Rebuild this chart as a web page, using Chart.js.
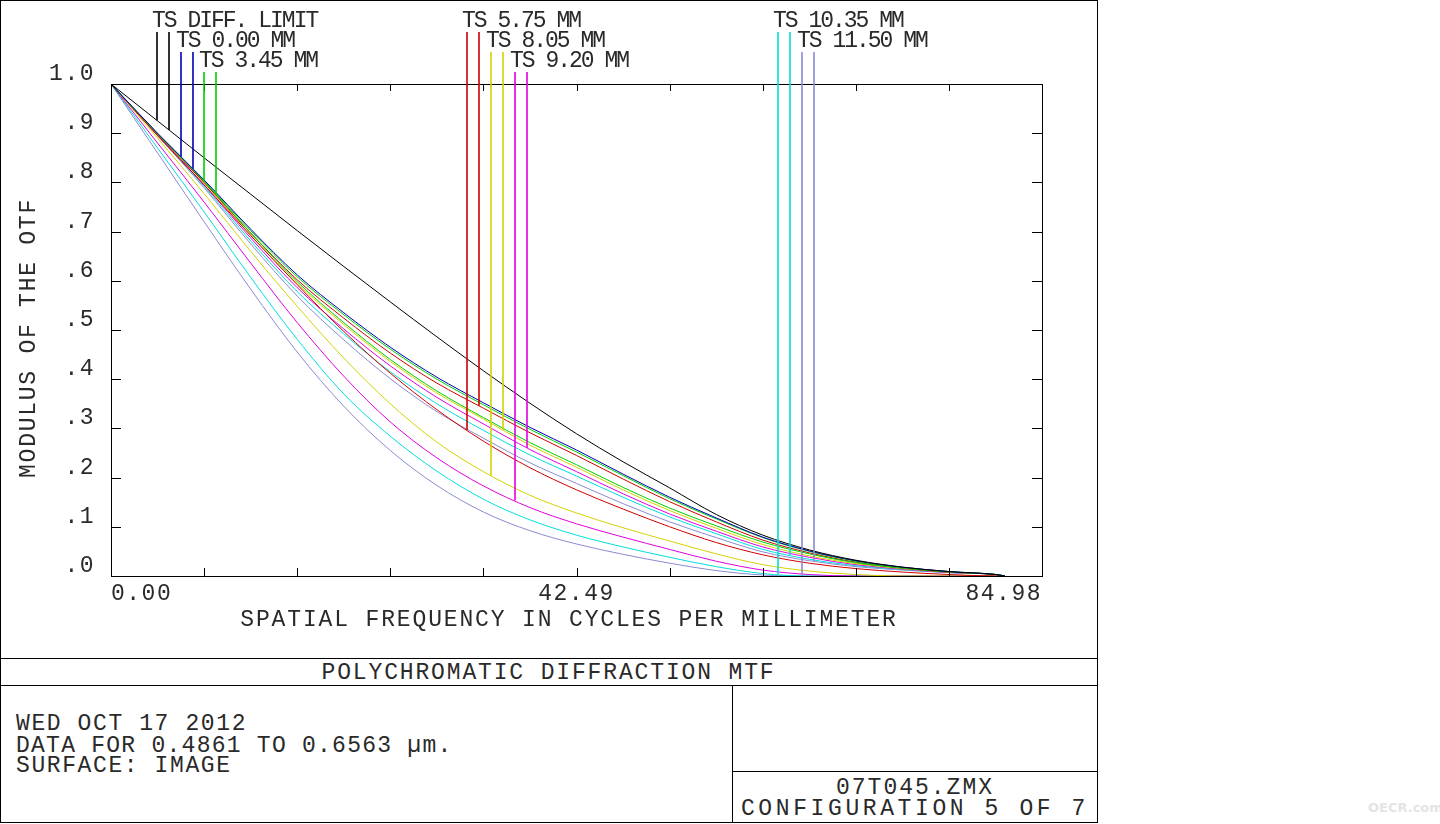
<!DOCTYPE html>
<html>
<head>
<meta charset="utf-8">
<script src="https://cdn.jsdelivr.net/npm/chart.js@4.4.0/dist/chart.umd.min.js"></script>
<style>
  html, body { margin: 0; padding: 0; background: #fff; }
  body { width: 1440px; height: 824px; position: relative; overflow: hidden;
         font-family: "Liberation Mono", monospace; font-size: 23px; color: #2a2a2a; }
  .ln { position: absolute; background: #000; }
  .txt { position: absolute; white-space: pre; line-height: 24px; height: 24px; letter-spacing: 1.6px; }
  #mtf { position: absolute; left: 0; top: 0; z-index: 2; }
  #wm { position: absolute; left: 1368px; top: 800px; font-family: "DejaVu Sans", sans-serif;
        font-size: 13px; font-weight: bold; color: #e4e4e4; }
</style>
</head>
<body>
<!-- frame -->
<div class="ln" style="left:0;top:0;width:1098px;height:1px"></div>
<div class="ln" style="left:0;top:0;width:1px;height:823px"></div>
<div class="ln" style="left:1097px;top:0;width:1px;height:823px"></div>
<div class="ln" style="left:0;top:822px;width:1098px;height:1px"></div>
<div class="ln" style="left:0;top:658px;width:1098px;height:1px"></div>
<div class="ln" style="left:0;top:685px;width:1098px;height:1px"></div>
<div class="ln" style="left:732px;top:685px;width:1px;height:138px"></div>
<div class="ln" style="left:732px;top:771px;width:366px;height:1px"></div>

<div class="txt" style="left:0;width:1097px;top:661px;text-align:center;letter-spacing:1.85px">POLYCHROMATIC DIFFRACTION MTF</div>
<div class="txt" style="left:16px;top:712px">WED OCT 17 2012</div>
<div class="txt" style="left:16px;top:734px;letter-spacing:1.25px">DATA FOR 0.4861 TO 0.6563 µm.</div>
<div class="txt" style="left:16px;top:754px">SURFACE: IMAGE</div>
<div class="txt" style="left:733px;width:364px;top:776px;text-align:center;letter-spacing:2px">07T045.ZMX</div>
<div class="txt" style="left:733px;width:364px;top:797px;text-align:center;letter-spacing:3.6px">CONFIGURATION 5 OF 7</div>
<div id="wm">OECR.com</div>

<canvas id="mtf" width="1097" height="657"></canvas>

<script>
// spatial frequency (cycles/mm)
let freq = [0, 4.25, 8.5, 12.75, 17, 21.25, 25.5, 29.75, 34, 38.25, 42.5, 46.75, 51, 55.25, 59.5, 63.75, 68, 72.25, 76.5, 80.75, 81.6];

// modulus of the OTF
let diffLimit = [1.0, 0.925, 0.85, 0.776, 0.702, 0.629, 0.557, 0.486, 0.417, 0.351, 0.289, 0.232, 0.179, 0.125, 0.083, 0.053, 0.032, 0.018, 0.009, 0.003, 0];
let ts000  = [1.0, 0.90, 0.805, 0.705, 0.612, 0.535, 0.465, 0.404, 0.352, 0.302, 0.256, 0.207, 0.16, 0.118, 0.079, 0.051, 0.031, 0.018, 0.009, 0.003, 0];
let ts345T = [1.0, 0.899, 0.803, 0.702, 0.608, 0.531, 0.461, 0.4, 0.348, 0.298, 0.252, 0.204, 0.157, 0.116, 0.078, 0.05, 0.03, 0.017, 0.009, 0.003, 0];
let ts345S = [1.0, 0.899, 0.802, 0.697, 0.598, 0.515, 0.44, 0.376, 0.322, 0.271, 0.226, 0.18, 0.138, 0.102, 0.069, 0.045, 0.027, 0.016, 0.008, 0.003, 0];
let ts575T = [1.0, 0.895, 0.795, 0.692, 0.592, 0.497, 0.412, 0.338, 0.274, 0.22, 0.175, 0.136, 0.1, 0.068, 0.043, 0.026, 0.015, 0.008, 0.003, 0, 0];
let ts575S = [1.0, 0.898, 0.80, 0.697, 0.602, 0.524, 0.453, 0.392, 0.341, 0.291, 0.245, 0.197, 0.151, 0.11, 0.073, 0.047, 0.028, 0.016, 0.008, 0.003, 0];
let ts805T = [1.0, 0.89, 0.777, 0.66, 0.548, 0.443, 0.35, 0.272, 0.212, 0.164, 0.128, 0.098, 0.071, 0.045, 0.023, 0.01, 0.003, 0, 0, 0, 0];
let ts805S = [1.0, 0.898, 0.799, 0.693, 0.594, 0.511, 0.436, 0.372, 0.319, 0.266, 0.221, 0.175, 0.133, 0.097, 0.064, 0.041, 0.025, 0.015, 0.008, 0.003, 0];
let ts920T = [1.0, 0.88, 0.76, 0.636, 0.515, 0.406, 0.313, 0.24, 0.183, 0.139, 0.106, 0.079, 0.054, 0.03, 0.012, 0.003, 0, 0, 0, 0, 0];
let ts920S = [1.0, 0.897, 0.795, 0.687, 0.586, 0.502, 0.427, 0.363, 0.309, 0.257, 0.212, 0.167, 0.126, 0.091, 0.059, 0.038, 0.023, 0.014, 0.007, 0.003, 0];
let ts1035T = [1.0, 0.87, 0.74, 0.607, 0.481, 0.37, 0.284, 0.213, 0.156, 0.114, 0.083, 0.059, 0.038, 0.019, 0.005, 0, 0, 0, 0, 0, 0];
let ts1035S = [1.0, 0.896, 0.792, 0.681, 0.578, 0.492, 0.415, 0.35, 0.296, 0.246, 0.203, 0.16, 0.12, 0.086, 0.054, 0.034, 0.021, 0.013, 0.007, 0.003, 0];
let ts1150T = [1.0, 0.86, 0.72, 0.583, 0.455, 0.345, 0.255, 0.184, 0.13, 0.092, 0.065, 0.044, 0.026, 0.011, 0.002, 0, 0, 0, 0, 0, 0];
let ts1150S = [1.0, 0.895, 0.789, 0.675, 0.569, 0.48, 0.401, 0.334, 0.28, 0.23, 0.188, 0.147, 0.11, 0.078, 0.049, 0.031, 0.019, 0.012, 0.007, 0.003, 0];

let xMax = 84.98;
let xTickLabels = ['0.00', '42.49', '84.98'];
let yTickLabels = ['.0', '.1', '.2', '.3', '.4', '.5', '.6', '.7', '.8', '.9', '1.0'];
let fieldNames = ['TS DIFF. LIMIT', 'TS 0.00 MM', 'TS 3.45 MM', 'TS 5.75 MM', 'TS 8.05 MM', 'TS 9.20 MM', 'TS 10.35 MM', 'TS 11.50 MM'];

// one entry per legend field: tangential + sagittal curve and pen colour
let fields = [
  {t: diffLimit, s: diffLimit, color: '#000000'},
  {t: ts000, s: ts000, color: '#0000b4'},
  {t: ts345T, s: ts345S, color: '#00d000'},
  {t: ts575T, s: ts575S, color: '#d00000'},
  {t: ts805T, s: ts805S, color: '#d2d200'},
  {t: ts920T, s: ts920S, color: '#e000e0'},
  {t: ts1035T, s: ts1035S, color: '#00dede'},
  {t: ts1150T, s: ts1150S, color: '#8a8ad2'}
];
// legend text placement (left x, row)
let legendX = [152, 176, 199, 462, 486, 510, 773, 797];
let legendRow = [0, 1, 2, 0, 1, 2, 0, 1];

let FONT = '23px "Liberation Mono", monospace';

function toPoints(values)
{
  let pts = [];
  for (let i = 0; i < freq.length; i++)
  {
    pts.push({x: freq[i], y: values[i]});
  }
  return pts;
}

// linear read of a series at frequency f (used to stop the legend pens on the curve)
function valueAt(values, f)
{
  for (let i = 1; i < freq.length; i++)
  {
    if (f <= freq[i])
    {
      let k = (f - freq[i-1]) / (freq[i] - freq[i-1]);
      return values[i-1] + (values[i] - values[i-1]) * k;
    }
  }
  return 0;
}

let datasets = [];
for (let fd of fields)
{
  datasets.push({data: toPoints(fd.t), borderColor: fd.color, borderWidth: 1, pointRadius: 0, cubicInterpolationMode: 'monotone'});
  if (fd.s !== fd.t)
  {
    datasets.push({data: toPoints(fd.s), borderColor: fd.color, borderWidth: 1, pointRadius: 0, cubicInterpolationMode: 'monotone'});
  }
}

let zemaxPlugin = {
  id: 'zemax',
  beforeDraw(chart) {
    chart.ctx.letterSpacing = '1.5px';
  },
  afterDraw(chart) {
    let ctx = chart.ctx;
    let a = chart.chartArea;
    let xs = chart.scales.x;
    let ys = chart.scales.y;
    ctx.save();
    ctx.strokeStyle = '#000';
    ctx.lineWidth = 1;
    ctx.strokeRect(Math.round(a.left) + 0.5, Math.round(a.top) + 0.5, Math.round(a.right - a.left), Math.round(a.bottom - a.top));

    // inward tick marks on all four sides
    ctx.beginPath();
    for (let i = 1; i < xs.ticks.length - 1; i++)
    {
      let px = Math.round(xs.getPixelForValue(xs.ticks[i].value)) + 0.5;
      ctx.moveTo(px, a.bottom); ctx.lineTo(px, a.bottom - 8);
      ctx.moveTo(px, a.top); ctx.lineTo(px, a.top + 7);
    }
    for (let i = 1; i < ys.ticks.length - 1; i++)
    {
      let py = Math.round(ys.getPixelForValue(ys.ticks[i].value)) + 0.5;
      ctx.moveTo(a.left, py); ctx.lineTo(a.left + 10, py);
      ctx.moveTo(a.right, py); ctx.lineTo(a.right - 10, py);
    }
    ctx.stroke();

    // axis titles
    ctx.fillStyle = '#2a2a2a';
    ctx.font = FONT;
    ctx.textAlign = 'center';
    ctx.textBaseline = 'alphabetic';
    ctx.letterSpacing = '1.85px';
    ctx.fillText('SPATIAL FREQUENCY IN CYCLES PER MILLIMETER', 569, 626);
    ctx.save();
    ctx.translate(28, 338);
    ctx.rotate(-Math.PI / 2);
    ctx.letterSpacing = '1.75px';
    ctx.fillText('MODULUS OF THE OTF', 0, 7);
    ctx.restore();

    // legend: label plus one pen for T and one for S dropped onto the curve
    ctx.textAlign = 'left';
    ctx.letterSpacing = '-2px';
    ctx.lineWidth = 1.6;
    for (let i = 0; i < fieldNames.length; i++)
    {
      let tx = legendX[i];
      let row = legendRow[i];
      ctx.fillStyle = '#2a2a2a';
      ctx.fillText(fieldNames[i], tx, 27 + row * 20);
      let pens = [[tx + 5, fields[i].t], [tx + 17, fields[i].s]];
      ctx.strokeStyle = fields[i].color;
      ctx.beginPath();
      for (let p of pens)
      {
        let f = xs.getValueForPixel(p[0]);
        let py = ys.getPixelForValue(valueAt(p[1], f));
        ctx.moveTo(p[0], 32 + row * 20);
        ctx.lineTo(p[0], py);
      }
      ctx.stroke();
    }
    ctx.restore();
  }
};

Chart.defaults.color = '#2a2a2a';
Chart.defaults.font.family = '"Liberation Mono", monospace';
Chart.defaults.font.size = 23;

let mtfChart = new Chart(document.getElementById('mtf').getContext('2d'), {
  type: 'line',
  data: {datasets: datasets},
  options: {
    responsive: false,
    animation: false,
    events: [],
    layout: {padding: {left: 0, top: 84, right: 55, bottom: 0}},
    plugins: {legend: {display: false}, tooltip: {enabled: false}},
    scales: {
      x: {
        type: 'linear', min: 0, max: xMax,
        grid: {display: false, drawTicks: false, tickLength: 0},
        border: {display: false},
        ticks: {
          stepSize: xMax / 10, autoSkip: false, maxRotation: 0, align: 'inner', padding: 4,
          callback: function(v, i) { return i % 5 == 0 ? xTickLabels[i / 5] : ''; }
        },
        afterFit: function(s) { s.height = 81; }
      },
      y: {
        type: 'linear', min: 0, max: 1,
        grid: {display: false, drawTicks: false, tickLength: 0},
        border: {display: false},
        ticks: {
          stepSize: 0.1, autoSkip: false, padding: 16, labelOffset: -10,
          callback: function(v, i) { return yTickLabels[i]; }
        },
        afterFit: function(s) { s.width = 111; }
      }
    }
  },
  plugins: [zemaxPlugin]
});
</script>
</body>
</html>
